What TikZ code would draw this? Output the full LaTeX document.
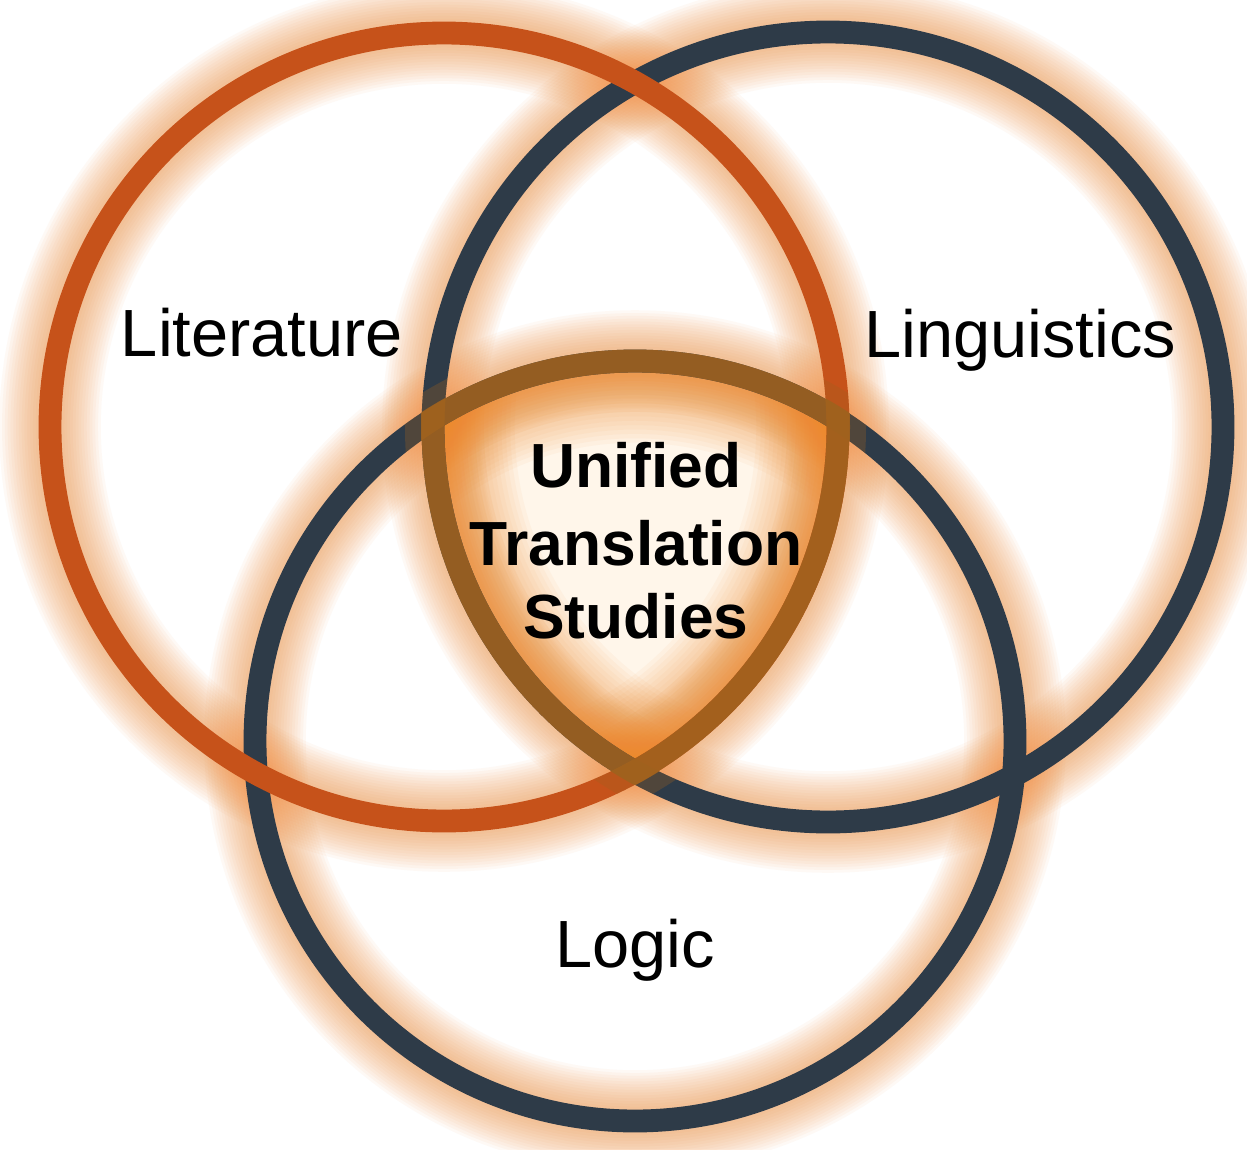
\documentclass[tikz,border=0pt]{standalone}
\usepackage{fontspec}
\setmainfont{Liberation Sans}
\definecolor{rustc}{HTML}{C6521A}
\definecolor{slatec}{HTML}{2E3B48}
\definecolor{glowc}{HTML}{F29040}
\definecolor{innerc}{HTML}{EC8A2C}
\definecolor{goldc}{HTML}{A0621E}
\definecolor{creamc}{HTML}{FFF6EA}
\tikzset{
  ring/.style={line width=13pt},
  halo/.style={draw=glowc, draw opacity=0.05},
  innerglow/.style={draw=innerc, draw opacity=0.05},
  lab/.style={font=\fontsize{38}{44}\selectfont, text=black, anchor=base, inner sep=0pt},
  core/.style={font=\fontsize{35.5}{40}\selectfont\bfseries, text=black, anchor=base, inner sep=0pt}
}
\begin{document}
\begin{tikzpicture}[x=0.02cm,y=-0.02cm]
\useasboundingbox[fill=white] (0,0) rectangle (1247,1149);
\coordinate (cL) at (444,427);
\coordinate (cR) at (828,427);
\coordinate (cB) at (635,741);
\def\rL{394}\def\rR{395}\def\rB{380}
% cream core
\begin{scope}
  \clip (cL) circle[radius=\rL];
  \clip (cR) circle[radius=\rR];
  \clip (cB) circle[radius=\rB];
  \fill[creamc] (0,0) rectangle (1247,1149);
\end{scope}
% halos
\foreach \i in {1,...,14}{
  \draw[halo, line width=13pt+\i*3.2pt] (cL) circle[radius=\rL];
  \draw[halo, line width=13pt+\i*3.2pt] (cR) circle[radius=\rR];
  \draw[halo, line width=13pt+\i*3.2pt] (cB) circle[radius=\rB];
}
% inner glow of the core
\begin{scope}
  \clip (cL) circle[radius=\rL];
  \clip (cR) circle[radius=\rR];
  \clip (cB) circle[radius=\rB];
  \foreach \i in {1,...,16}{
    \draw[innerglow, line width=13pt+\i*5pt] (cL) circle[radius=\rL];
    \draw[innerglow, line width=13pt+\i*5pt] (cR) circle[radius=\rR];
    \draw[innerglow, line width=13pt+\i*5pt] (cB) circle[radius=\rB];
  }
\end{scope}
% rings
\draw[ring, slatec] (cB) circle[radius=\rB];
\draw[ring, slatec] (cR) circle[radius=\rR];
\draw[ring, rustc] (cL) circle[radius=\rL];
% golden tint of the core's border
\begin{scope}
  \clip (cL) circle[radius=\rL+28];
  \clip (cR) circle[radius=\rR+28];
  \clip (cB) circle[radius=\rB+28];
  \draw[ring, goldc, draw opacity=0.3] (cL) circle[radius=\rL];
  \draw[ring, goldc, draw opacity=0.3] (cR) circle[radius=\rR];
  \draw[ring, goldc, draw opacity=0.3] (cB) circle[radius=\rB];
\end{scope}
\begin{scope}
  \clip (cL) circle[radius=\rL+12];
  \clip (cR) circle[radius=\rR+12];
  \clip (cB) circle[radius=\rB+12];
  \draw[ring, goldc, draw opacity=0.85] (cL) circle[radius=\rL];
  \draw[ring, goldc, draw opacity=0.85] (cR) circle[radius=\rR];
  \draw[ring, goldc, draw opacity=0.85] (cB) circle[radius=\rB];
\end{scope}
% labels
\node[lab] (lit) at (262,356) {Literature};
\node[lab] (ling) at (1020,357) {Linguistics};
\node[lab] (logic) at (635,967) {Logic};
\node[core] (uni) at (636,487) {Unified};
\node[core] (tra) at (636,565) {Translation};
\node[core] (stu) at (636,638) {Studies};
\end{tikzpicture}
\end{document}
